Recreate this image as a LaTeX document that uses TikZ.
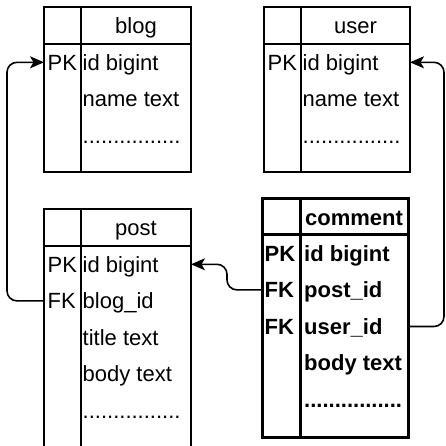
\documentclass[tikz,border=0pt]{standalone}
\usepackage{fontspec}
\setmainfont{Liberation Sans}
\usetikzlibrary{arrows.meta,calc}
\begin{document}
\begin{tikzpicture}[x=1pt,y=-1pt,
  tablebox/.style={draw=black, line width=1.3pt},
  boldtablebox/.style={draw=black, line width=3pt},
  rowcell/.style={inner sep=0pt, outer sep=0pt, minimum height=36.6pt, anchor=north west},
  txt/.style={inner sep=0pt, anchor=base west, font=\fontsize{22}{26}\selectfont},
  btxt/.style={txt, font=\fontsize{22}{26}\selectfont\bfseries},
  htxt/.style={inner sep=0pt, anchor=base, font=\fontsize{22}{26}\selectfont},
  bhtxt/.style={htxt, font=\fontsize{22}{26}\selectfont\bfseries},
  fk/.style={draw=black, line width=1.6pt, rounded corners=10pt,
    -{Stealth[length=14pt,width=12pt,inset=3.5pt]}},
]
\fill[white] (0,0) rectangle (446,445);
\useasboundingbox (0,0) rectangle (446,445);

% ---- blog ----
\draw[tablebox] (44,7) rectangle (191,172);
\draw[tablebox] (81,7) -- (81,172);
\draw[tablebox] (44,44) -- (191,44);
\node[htxt] (blog-title) at (136,33) {blog};
\node[rowcell, minimum width=147pt] (blog-r1) at (44,44) {};
\node[rowcell, minimum width=147pt] (blog-r2) at (44,80.6) {};
\node[rowcell, minimum width=147pt] (blog-r3) at (44,117.2) {};
\node[txt] (blog-k1) at ([shift={(3.5,7.7)}]blog-r1.west) {PK};
\node[txt] (blog-f1) at ([shift={(38.5,7.7)}]blog-r1.west) {id bigint};
\node[txt] (blog-f2) at ([shift={(38.5,7.7)}]blog-r2.west) {name text};
\node[txt] (blog-f3) at ([shift={(38.5,7.7)}]blog-r3.west) {................};

% ---- user ----
\draw[tablebox] (264,7) rectangle (410,172);
\draw[tablebox] (301,7) -- (301,172);
\draw[tablebox] (264,44) -- (410,44);
\node[htxt] (user-title) at (355.5,33) {user};
\node[rowcell, minimum width=146pt] (user-r1) at (264,44) {};
\node[rowcell, minimum width=146pt] (user-r2) at (264,80.6) {};
\node[rowcell, minimum width=146pt] (user-r3) at (264,117.2) {};
\node[txt] (user-k1) at ([shift={(3.5,7.7)}]user-r1.west) {PK};
\node[txt] (user-f1) at ([shift={(38.5,7.7)}]user-r1.west) {id bigint};
\node[txt] (user-f2) at ([shift={(38.5,7.7)}]user-r2.west) {name text};
\node[txt] (user-f3) at ([shift={(38.5,7.7)}]user-r3.west) {................};

% ---- post (runs past the lower edge) ----
\draw[tablebox] (44,209) rectangle (191,449);
\draw[tablebox] (81,209) -- (81,449);
\draw[tablebox] (44,246) -- (191,246);
\node[htxt] (post-title) at (136,235) {post};
\node[rowcell, minimum width=147pt] (post-r1) at (44,246) {};
\node[rowcell, minimum width=147pt] (post-r2) at (44,282.6) {};
\node[rowcell, minimum width=147pt] (post-r3) at (44,319.2) {};
\node[rowcell, minimum width=147pt] (post-r4) at (44,355.8) {};
\node[rowcell, minimum width=147pt] (post-r5) at (44,392.4) {};
\node[txt] (post-k1) at ([shift={(3.5,7.7)}]post-r1.west) {PK};
\node[txt] (post-k2) at ([shift={(3.5,7.7)}]post-r2.west) {FK};
\node[txt] (post-f1) at ([shift={(38.5,7.7)}]post-r1.west) {id bigint};
\node[txt] (post-f2) at ([shift={(38.5,7.7)}]post-r2.west) {blog\_id};
\node[txt] (post-f3) at ([shift={(38.5,7.7)}]post-r3.west) {title text};
\node[txt] (post-f4) at ([shift={(38.5,7.7)}]post-r4.west) {body text};
\node[txt] (post-f5) at ([shift={(38.5,7.7)}]post-r5.west) {................};

% ---- comment ----
\draw[boldtablebox] (262,198) rectangle (408,437);
\draw[boldtablebox] (300,198) -- (300,437);
\draw[boldtablebox] (262,234) -- (408,234);
\node[bhtxt] (comment-title) at (354,225) {comment};
\node[rowcell, minimum width=146pt] (comment-r1) at (262,235) {};
\node[rowcell, minimum width=146pt] (comment-r2) at (262,271.6) {};
\node[rowcell, minimum width=146pt] (comment-r3) at (262,308.2) {};
\node[rowcell, minimum width=146pt] (comment-r4) at (262,344.8) {};
\node[rowcell, minimum width=146pt] (comment-r5) at (262,381.4) {};
\node[btxt] (comment-k1) at ([shift={(2.5,7.7)}]comment-r1.west) {PK};
\node[btxt] (comment-k2) at ([shift={(2.5,7.7)}]comment-r2.west) {FK};
\node[btxt] (comment-k3) at ([shift={(2.5,7.7)}]comment-r3.west) {FK};
\node[btxt] (comment-f1) at ([shift={(42,7.7)}]comment-r1.west) {id bigint};
\node[btxt] (comment-f2) at ([shift={(42,7.7)}]comment-r2.west) {post\_id};
\node[btxt] (comment-f3) at ([shift={(42,7.7)}]comment-r3.west) {user\_id};
\node[btxt] (comment-f4) at ([shift={(42,7.7)}]comment-r4.west) {body text};
\node[btxt] (comment-f5) at ([shift={(42,7.7)}]comment-r5.west) {................};

% ---- foreign keys ----
\draw[fk] (post-r2.west) -| ([xshift=-37pt]blog-r1.west) -- (blog-r1.west);
\draw[fk] (comment-r2.west) -- ++(-35,0) |- (post-r1.east);
\draw[fk] (comment-r3.east) -- ++(36,0) |- (user-r1.east);
\end{tikzpicture}
\end{document}
